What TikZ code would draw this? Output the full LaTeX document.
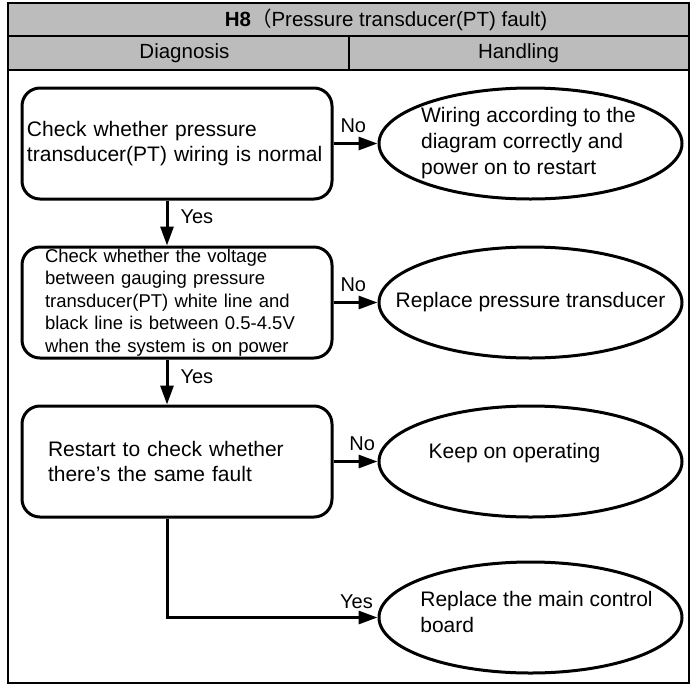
\documentclass[tikz,border=0pt]{standalone}
\usepackage{fontspec}
\setmainfont{Liberation Sans}
\newfontfamily\cjkfont{Noto Sans CJK SC}
\usetikzlibrary{shapes.geometric,positioning,calc,arrows.meta}
\definecolor{headgray}{RGB}{188,188,188}
\tikzset{CHECK/.style={rectangle,rounded corners=18pt,draw,line width=3pt,minimum width=310pt,minimum height=111pt,inner sep=0pt,align=left,font=\fontsize{21}{25}\selectfont}}
\tikzset{RESULT/.style={ellipse,draw,line width=3pt,minimum width=303pt,minimum height=111pt,inner sep=0pt}}
\tikzset{RTEXT/.style={align=left,inner sep=0pt,font=\fontsize{21}{26}\selectfont}}
\tikzset{ARROW/.style={line width=3pt,-{Triangle[length=19pt,width=13pt]}}}
\tikzset{LABEL/.style={inner sep=0pt,font=\fontsize{20}{24}\selectfont}}
\tikzset{HEADER/.style={draw,line width=2.8pt,fill=headgray}}
\tikzset{HTEXT/.style={inner sep=0pt,font=\fontsize{20.5}{24}\selectfont}}

\begin{document}
\begin{tikzpicture}[x=1pt,y=-1pt]
\useasboundingbox (0,0) rectangle (696,686);

% table head
\draw[HEADER] (8,3) rectangle (689,36);
\draw[HEADER] (8,36) rectangle (349,70);
\draw[HEADER] (349,36) rectangle (689,70);
\node[HTEXT] (n_title) at (386,19.5) {\textbf{H8}{\cjkfont （}Pressure transducer(PT) fault)};
\node[HTEXT] (n_diagnosis) at (184.5,53) {Diagnosis};
\node[HTEXT] (n_handling) at (518.5,53) {Handling};
\draw[line width=2.8pt] (8,3) rectangle (689,683);

% diagnosis steps
\node[CHECK, text width=300pt] (n_wiring) at (177,143.5) {Check whether pressure\\transducer(PT) wiring is normal};
\node[CHECK, text width=264pt, font=\fontsize{18.5}{22.5}\selectfont, below=45pt of n_wiring] (n_voltage) {Check whether the voltage\\between gauging pressure\\transducer(PT) white line and\\black line is between 0.5-4.5V\\when the system is on power};
\node[CHECK, text width=258pt, below=45pt of n_voltage] (n_restart) {Restart to check whether\\there’s the same fault};

% handling
\node[RESULT, right=44pt of n_wiring, label={[RTEXT,xshift=-2pt]center:Wiring according to the\\diagram correctly and\\power on to restart}] (n_rewire) {};
\node[RESULT, right=44pt of n_voltage, label={[RTEXT]center:Replace pressure transducer}] (n_replace_pt) {};
\node[RESULT, right=44pt of n_restart, label={[RTEXT,xshift=-16pt,yshift=8pt]center:Keep on operating}] (n_keep) {};
\node[RESULT, below=42pt of n_keep, label={[RTEXT,xshift=6pt,yshift=6pt]center:Replace the main control\\board}] (n_board) {};

\draw[ARROW] (n_wiring) -- (n_rewire) node[LABEL, pos=0.45, above=9pt] {No};
\draw[ARROW] (n_voltage) -- (n_replace_pt) node[LABEL, pos=0.45, above=9pt] {No};
\draw[ARROW] (n_restart) -- (n_keep) node[LABEL, pos=0.65, above=9pt] {No};

\draw[ARROW] ($(n_wiring.south)+(-10,0)$) -- ($(n_voltage.north)+(-10,0)$) node[LABEL, pos=0.37, right=12pt] {Yes};
\draw[ARROW] ($(n_voltage.south)+(-10,0)$) -- ($(n_restart.north)+(-10,0)$) node[LABEL, pos=0.38, right=12pt] {Yes};
\draw[ARROW] ($(n_restart.south)+(-10,0)$) |- (n_board.west) node[LABEL, pos=0.95, above=7pt] {Yes};

\end{tikzpicture}
\end{document}
